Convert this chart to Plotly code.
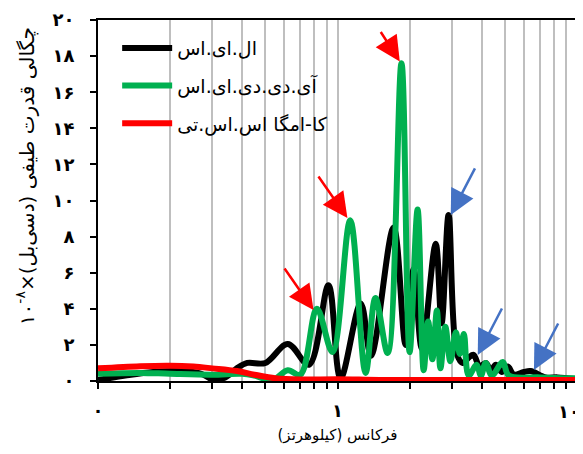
import numpy as np
import plotly.graph_objects as go

# ---------------- data ----------------
les_freq = [0.10, 0.13, 0.17, 0.22, 0.27, 0.30, 0.34, 0.38, 0.42, 0.50, 0.62, 0.76, 0.917,
            1.03, 1.25, 1.38, 1.715, 1.925, 2.08, 2.25, 2.57, 2.72, 2.91, 3.15, 3.33, 3.53,
            3.70, 3.92, 4.16, 4.37, 4.58, 4.85, 5.14, 5.45, 6.0, 6.4, 7.4, 8.3, 10.0]
les_val = [0.05, 0.3, 0.5, 0.55, 0.4, 0.1, 0.2, 0.7, 1.0, 1.0, 2.05, 0.9, 5.3,
           0.15, 4.3, 1.4, 8.5, 2.0, 6.2, 1.8, 7.6, 3.2, 9.2, 1.5, 1.0, 1.3,
           1.45, 0.8, 1.0, 0.6, 0.9, 0.5, 0.8, 0.35, 0.5, 0.55, 0.2, 0.2, 0.1]

idd_freq = [0.10, 0.15, 0.20, 0.30, 0.40, 0.45, 0.535, 0.62, 0.70, 0.82, 0.953, 1.13, 1.31,
            1.44, 1.62, 1.85, 2.00, 2.16, 2.29, 2.39, 2.49, 2.60, 2.69, 2.82, 2.96, 3.12, 3.24,
            3.37, 3.53, 3.81, 3.97, 4.16, 4.41, 4.90, 5.19, 7.0, 10.0]
idd_val = [0.4, 0.45, 0.4, 0.35, 0.4, 0.3, 0.05, 0.6, 0.35, 4.0, 1.6, 8.9, 0.45,
           4.6, 1.55, 17.6, 1.6, 9.5, 0.6, 3.3, 1.2, 3.9, 0.7, 3.0, 1.1, 2.7, 1.5,
           2.6, 0.3, 0.9, 0.3, 1.0, 0.3, 1.05, 0.3, 0.2, 0.15]

sst_freq = [0.10, 0.15, 0.20, 0.25, 0.30, 0.38, 0.45, 0.55, 0.70, 1.0, 1.5, 3.0, 10.0]
sst_val = [0.7, 0.82, 0.85, 0.8, 0.7, 0.55, 0.35, 0.15, 0.08, 0.1, 0.06, 0.05, 0.05]

series_names = ["ال.ای.اس", "آی.دی.دی.ای.اس", "کا-امگا اس.اس.تی"]

x_tickvals = [0.1, 0.2, 0.3, 0.4, 0.5, 0.6, 0.7, 0.8, 0.9, 1, 2, 3, 4, 5, 6, 7, 8, 9, 10]
x_ticktext = ["۰", "", "", "", "", "", "", "", "", "۱", "", "", "", "", "", "", "", "", "۱۰"]
y_tickvals = [0, 2, 4, 6, 8, 10, 12, 14, 16, 18, 20]
y_ticktext = ["۰", "۲", "۴", "۶", "۸", "۱۰", "۱۲", "۱۴", "۱۶", "۱۸", "۲۰"]

x_title = "فرکانس (کیلوهرتز)"
# visual order for an LTR text run: number first, then the RTL phrase
y_title = "۱۰<sup>-۸</sup>×" + "چگالی قدرت طیفی (دسی‌بل)\u200F"

red_arrow_freq = [0.794, 1.10, 1.82]
red_arrow_val = [3.93, 9.03, 17.7]
blue_arrow_freq = [2.97, 3.85, 6.61]
blue_arrow_val = [9.2, 1.44, 0.61]

FONT = "DejaVu Sans"

fig = go.Figure()
fig.add_trace(go.Scatter(x=les_freq, y=les_val, mode="lines", name=series_names[0],
                         legendgroup="a",
                         line=dict(color="#000000", width=6, shape="spline", smoothing=1.0)))
fig.add_trace(go.Scatter(x=idd_freq, y=idd_val, mode="lines", name=series_names[1],
                         legendgroup="b",
                         line=dict(color="#00B050", width=6, shape="spline", smoothing=1.0)))
fig.add_trace(go.Scatter(x=sst_freq, y=sst_val, mode="lines", name=series_names[2],
                         legendgroup="c",
                         line=dict(color="#FF0000", width=6, shape="spline", smoothing=1.0)))

annotations = []
for f, v, (ax, ay) in zip(red_arrow_freq, red_arrow_val, [(-30, -43), (-30, -43), (-20, -31)]):
    annotations.append(dict(x=np.log10(f), y=v, xref="x", yref="y", text="", showarrow=True,
                            ax=ax, ay=ay, arrowcolor="#FF0000", arrowwidth=2.5,
                            arrowhead=2, arrowsize=2.0, standoff=0))
for f, v in zip(blue_arrow_freq, blue_arrow_val):
    annotations.append(dict(x=np.log10(f), y=v, xref="x", yref="y", text="", showarrow=True,
                            ax=25, ay=-48, arrowcolor="#4472C4", arrowwidth=2.5,
                            arrowhead=2, arrowsize=2.0, standoff=0))
# y-axis title (placed as a rotated annotation, slightly above centre as in the original)
annotations.append(dict(text=y_title, xref="paper", yref="paper", x=-0.152, y=0.568,
                        xanchor="center", yanchor="middle", textangle=-90, showarrow=False,
                        font=dict(size=20, family=FONT, color="black")))
# last x tick label, kept right-aligned so it stays inside the window
annotations.append(dict(text=x_ticktext[-1], xref="x", yref="paper",
                        x=np.log10(x_tickvals[-1]), y=0, xanchor="right", yanchor="top",
                        xshift=5, yshift=-18, showarrow=False,
                        font=dict(size=18, family=FONT, weight="bold", color="black")))
axis_ticktext = x_ticktext[:-1] + [""]

fig.update_layout(
    width=575, height=446,
    margin=dict(l=90, r=6, t=12, b=73),
    paper_bgcolor="white", plot_bgcolor="white",
    font=dict(family=FONT, color="black"),
    showlegend=True,
    legend=dict(x=0.04, y=0.975, xanchor="left", yanchor="top",
                bgcolor="rgba(0,0,0,0)", font=dict(size=19, family=FONT),
                traceorder="grouped", tracegroupgap=10, itemwidth=50),
    annotations=annotations,
    xaxis=dict(type="log", range=[-1, 1], tickmode="array", tickvals=x_tickvals,
               ticktext=axis_ticktext, ticks="outside", ticklen=6, tickwidth=1.5,
               tickcolor="black", showline=True, linecolor="black", linewidth=2,
               mirror=True, showgrid=True, gridcolor="#BFBFBF", gridwidth=2,
               zeroline=False, automargin=False, ticklabelstandoff=6,
               tickfont=dict(size=18, family=FONT, weight="bold"),
               title=dict(text=x_title, font=dict(size=15, family=FONT),
                          standoff=10)),
    yaxis=dict(range=[0, 20], tickmode="array", tickvals=y_tickvals, ticktext=y_ticktext,
               ticks="outside", ticklen=6, tickwidth=1.5, tickcolor="black",
               showline=True, linecolor="black", linewidth=2, mirror=True,
               showgrid=False, zeroline=False, ticklabelstandoff=12, automargin=False,
               tickfont=dict(size=18, family=FONT, weight="bold")),
)

fig.write_html("out.html")
